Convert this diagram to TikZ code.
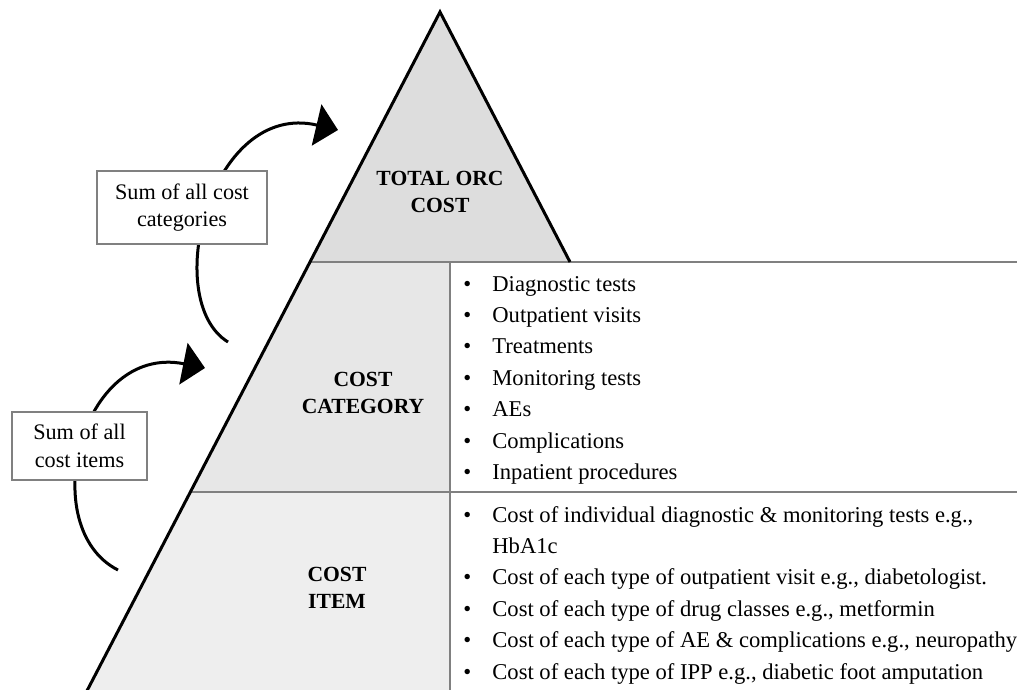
\documentclass[tikz,border=0pt]{standalone}
\usepackage{fontspec}
\setmainfont{Liberation Serif}
\usetikzlibrary{arrows.meta}

\begin{document}
\begin{tikzpicture}[x=0.5pt, y=-0.5pt,
    sideline/.style={line width=1.5pt},
    thinrule/.style={draw=gray, line width=0.6pt},
    tier/.style={font=\fontsize{10.8}{13.5}\selectfont\bfseries, align=center},
    sumbox/.style={draw=gray, line width=0.6pt, fill=white, align=center, inner sep=0pt,
      font=\fontsize{11.1}{13.75}\selectfont},
    item/.style={anchor=base west, inner sep=0pt, font=\fontsize{11.3}{13}\selectfont},
    sumarrow/.style={line width=1.5pt, -{Triangle[length=11pt, width=21pt]}}]
  \useasboundingbox (0, 0) rectangle (1017, 690);
  \clip (0, 0) rectangle (1017, 690);
  \coordinate (apex) at (440, 12);
  % pyramid
  \fill [gray!27] (apex) -- (310, 262) -- (570, 262) -- cycle;
  \fill [gray!19] (310, 262) -- (450, 262) -- (450, 492) -- (190.4, 492) -- cycle;
  \fill [gray!13] (190.4, 492) -- (450, 492) -- (450, 700) -- (82.2, 700) -- cycle;
  \draw [thinrule] (310, 262) -- (1017, 262);
  \draw [thinrule] (190.4, 492) -- (1017, 492);
  \draw [thinrule] (450, 262) -- (450, 700);
  \draw [sideline] (570, 262) -- (apex) -- (82.2, 700);
  \node [tier] (total) at (440, 192) {TOTAL ORC\\COST};
  \node [tier] (category) at (363, 393) {COST\\CATEGORY};
  \node [tier] (costitem) at (337, 588) {COST\\ITEM};
  % lists
  \foreach \txt [count=\i] in {Diagnostic tests, Outpatient visits, Treatments,
      Monitoring tests, AEs, Complications, Inpatient procedures}
    \node [item] (cat\i) at (463, {291 + 31.4*(\i-1)}) {\makebox[14.5pt][l]{\textbullet}\txt};
  \node [item] (it1) at (463, 522) {\makebox[14.5pt][l]{\textbullet}Cost of individual diagnostic \& monitoring tests e.g.,};
  \node [item] (it1b) at (492, 553.4) {HbA1c};
  \foreach \txt [count=\i from 2] in {{Cost of each type of outpatient visit e.g., diabetologist.},
      {Cost of each type of drug classes e.g., metformin},
      {Cost of each type of AE \& complications e.g., neuropathy},
      {Cost of each type of IPP e.g., diabetic foot amputation}}
    \node [item] (it\i) at (463, {553.4 + 31.4*(\i-1)}) {\makebox[14.5pt][l]{\textbullet}\txt};
  % summing arrows
  \coordinate (catfrom) at (228, 342);
  \coordinate (catto) at (338, 130);
  \draw [sumarrow] (catfrom) .. controls (160, 300) and (210, 100) .. (catto);
  \coordinate (itemfrom) at (118, 570);
  \coordinate (itemto) at (205, 368);
  \draw [sumarrow] (itemfrom) .. controls (35, 528) and (80, 343) .. (itemto);
  \node [sumbox, minimum width=85pt, minimum height=36.5pt] (sumcat) at (182, 207.5) {Sum of all cost\\categories};
  \node [sumbox, minimum width=67.5pt, minimum height=34pt] (sumitem) at (79.5, 446) {Sum of all\\cost items};
\end{tikzpicture}
\end{document}
